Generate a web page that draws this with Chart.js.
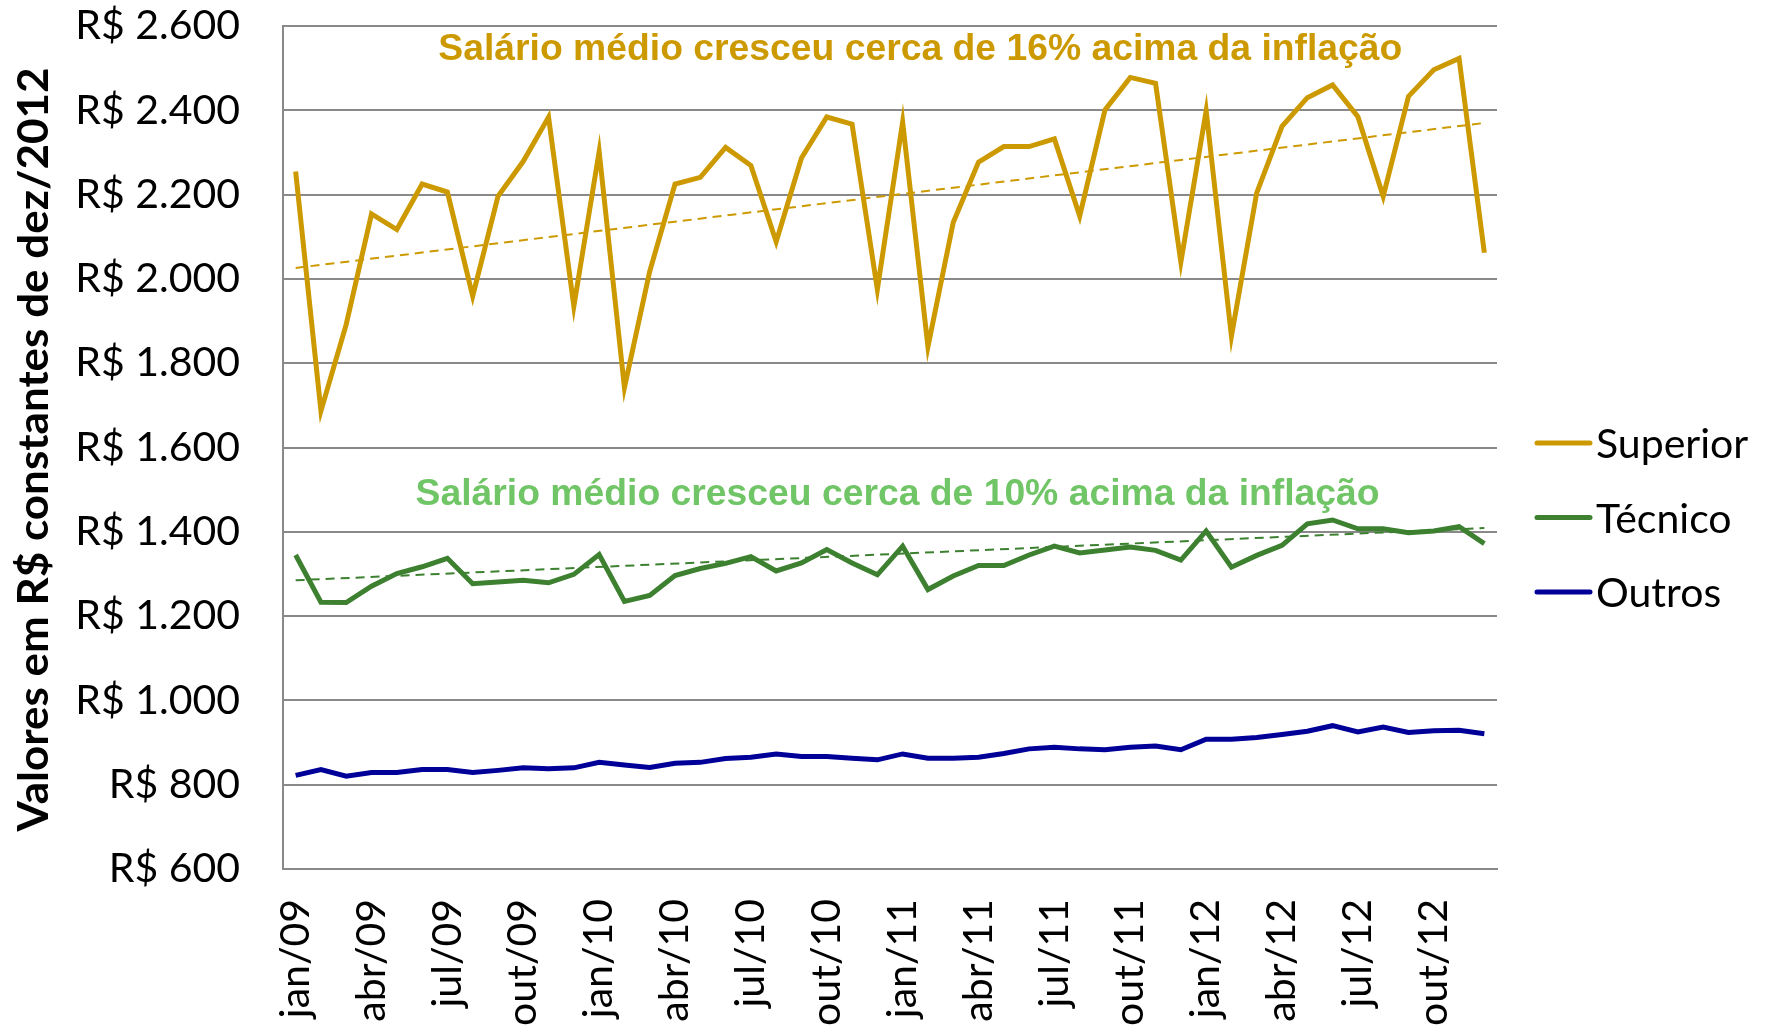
<!DOCTYPE html>
<html>
<head>
<meta charset="utf-8">
<script src="https://cdn.jsdelivr.net/npm/chart.js@4.4.1/dist/chart.umd.min.js"></script>
<style>
  html, body { margin: 0; padding: 0; background: #fff; }
</style>
</head>
<body>
<canvas id="salarioChart" width="1775" height="1033"></canvas>
<script>
const meses = ['jan','fev','mar','abr','mai','jun','jul','ago','set','out','nov','dez']
const anos = ['09','10','11','12']
const labels = []
anos.forEach(a => meses.forEach(m => labels.push(m + '/' + a)))

const superior = [2255,1687,1892,2154,2117,2225,2206,1959,2196,2279,2384,1935,
  2302,1742,2018,2225,2241,2312,2269,2088,2287,2384,2367,1975,
  2372,1839,2134,2277,2314,2314,2332,2149,2401,2478,2464,2040,
  2399,1864,2204,2362,2430,2460,2385,2196,2433,2496,2523,2062]
const tecnico = [1345,1233,1232,1271,1301,1317,1337,1277,1281,1285,1279,1299,
  1346,1235,1249,1296,1313,1325,1341,1307,1326,1358,1326,1298,
  1366,1263,1295,1320,1320,1345,1366,1350,1357,1364,1356,1333,
  1402,1316,1344,1368,1419,1428,1407,1407,1398,1402,1412,1372]
const outros = [822,836,820,829,829,836,836,829,834,840,838,840,
  853,847,841,851,853,862,865,873,867,867,863,859,
  873,863,863,865,874,885,889,885,883,889,892,883,
  908,908,912,919,927,940,925,937,924,928,929,921]

// trend lines: value at jan/09 and at dez/12
const trendSuperior = [2026, 2370]
const trendTecnico = [1285, 1409]

const yTicks = [600, 800, 1000, 1200, 1400, 1600, 1800, 2000, 2200, 2400, 2600]

const GOLD = '#CC9A00'
const GREEN = '#3C8030'
const NAVY = '#000099'
const GRID = '#898989'

const endsOnly = (pair) => labels.map((l, i) => (i === 0 ? pair[0] : i === labels.length - 1 ? pair[1] : null))

const fmtReais = (v) => {
  const s = v >= 1000 ? Math.floor(v / 1000) + '.' + String(v % 1000).padStart(3, '0') : String(v)
  return 'R$ ' + s
}

// texts, titles and legend drawn on top
const extras = {
  id: 'extras',
  afterDraw(chart) {
    const { ctx, chartArea, scales } = chart
    const y = scales.y
    const catW = (chartArea.right - chartArea.left) / labels.length
    ctx.save()

    // annotations
    ctx.font = 'bold 37.3px "Liberation Sans", Arial, sans-serif'
    ctx.textAlign = 'center'
    ctx.textBaseline = 'middle'
    ctx.fillStyle = GOLD
    ctx.fillText('Salário médio cresceu cerca de 16% acima da inflação',
      chartArea.left + catW * 25.2, y.getPixelForValue(2543))
    ctx.fillStyle = '#70C566'
    ctx.fillText('Salário médio cresceu cerca de 10% acima da inflação',
      chartArea.left + catW * 24.3, y.getPixelForValue(1488))

    // y axis title
    const title = 'Valores em R$ constantes de dez/2012'
    ctx.save()
    ctx.translate(34, (chartArea.top + chartArea.bottom) / 2 + 2)
    ctx.rotate(-Math.PI / 2)
    ctx.font = 'bold 42px Lato, sans-serif'
    const w = ctx.measureText(title).width
    ctx.scale(764 / w, 1)
    ctx.fillStyle = '#000'
    ctx.fillText(title, 0, 0)
    ctx.restore()

    // legend
    const items = chart.data.datasets.filter(d => !d.isTrend)
    ctx.font = '41px Lato, sans-serif'
    ctx.textAlign = 'left'
    ctx.lineCap = 'round'
    items.forEach((d, i) => {
      const ly = 443 + i * 74.5
      ctx.strokeStyle = d.borderColor
      ctx.lineWidth = 5
      ctx.beginPath()
      ctx.moveTo(chartArea.right + 40, ly)
      ctx.lineTo(chartArea.right + 93, ly)
      ctx.stroke()
      ctx.fillStyle = '#000'
      ctx.fillText(d.label, chartArea.right + 99, ly + 2)
    })
    ctx.restore()
  }
}

const lineDs = (label, data, color) => ({
  label, data,
  borderColor: color,
  backgroundColor: color,
  borderWidth: 5,
  pointRadius: 0,
  tension: 0,
  order: 1
})
const trendDs = (label, pair, color) => ({
  label, data: endsOnly(pair),
  isTrend: true,
  spanGaps: true,
  borderColor: color,
  borderWidth: 2,
  borderDash: [9, 6],
  pointRadius: 0,
  order: 0
})

new Chart(document.getElementById('salarioChart'), {
  type: 'line',
  data: {
    labels,
    datasets: [
      lineDs('Superior', superior, GOLD),
      lineDs('Técnico', tecnico, GREEN),
      lineDs('Outros', outros, NAVY),
      trendDs('Tendência Superior', trendSuperior, GOLD),
      trendDs('Tendência Técnico', trendTecnico, GREEN)
    ]
  },
  options: {
    responsive: false,
    animation: false,
    layout: { padding: { top: 26, right: 278, left: 0, bottom: 0 } },
    plugins: {
      legend: { display: false },
      tooltip: { enabled: false }
    },
    scales: {
      x: {
        offset: true,
        grid: { display: false, drawTicks: false },
        border: { display: true, color: GRID, width: 2 },
        ticks: {
          autoSkip: false,
          maxRotation: 90,
          minRotation: 90,
          padding: 30,
          color: '#000',
          font: { family: 'Lato, sans-serif', size: 41 },
          callback: (v, i) => (i % 3 === 0 ? labels[i] : null)
        },
        afterFit: (s) => { s.height = 164 }
      },
      y: {
        min: yTicks[0],
        max: yTicks[yTicks.length - 1],
        afterBuildTicks: (s) => { s.ticks = yTicks.map(v => ({ value: v })) },
        // invisible tick marks give the gap between labels and axis
        grid: { color: GRID, lineWidth: 2, drawTicks: true, tickLength: 43, tickColor: 'rgba(0,0,0,0)' },
        border: { display: true, color: GRID, width: 2 },
        ticks: {
          padding: 0,
          color: '#000',
          font: { family: 'Lato, sans-serif', size: 41 },
          callback: (v) => fmtReais(v)
        },
        afterFit: (s) => { s.width = 283 }
      }
    }
  },
  plugins: [extras]
})
</script>
</body>
</html>
